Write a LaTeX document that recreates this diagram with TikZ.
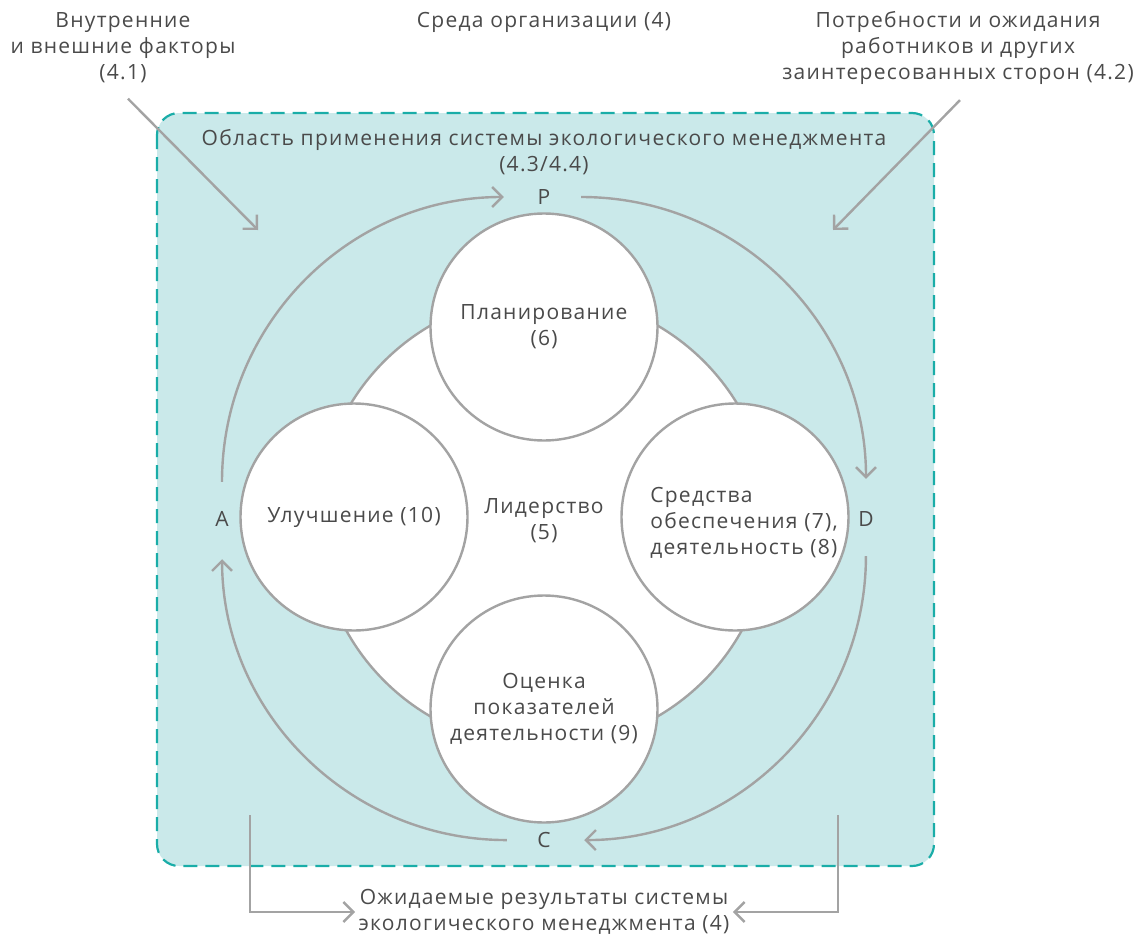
\documentclass[tikz,border=0pt]{standalone}
\usepackage{fontspec}
\setmainfont{Open Sans}[LetterSpace=6]
\usetikzlibrary{arrows.meta, positioning}
\definecolor{scopeteal}{HTML}{CAE9EA}
\definecolor{dashteal}{HTML}{1AADA8}
\definecolor{linegray}{HTML}{A3A3A3}
\definecolor{textgray}{HTML}{4A4A4A}

\begin{document}
\begin{tikzpicture}[
    x=1pt, y=1pt,
    every node/.style={text=textgray, font=\fontsize{21}{26}\selectfont},
    clause/.style={align=center},
    part/.style={circle, draw=linegray, line width=2.4pt, fill=white, minimum size=227pt, align=center},
    phase/.style={circle, minimum size=74pt, inner sep=0pt},
    flow/.style={draw=linegray, line width=2.4pt, -{Straight Barb[length=10pt,width=20pt]}},
    pdca/.style={flow, shorten >=3pt, bend left=45}
]
\useasboundingbox (0,0) rectangle (1146,-937);

% scope of the system
\draw[fill=scopeteal, draw=dashteal, line width=2.2pt, dash pattern=on 14pt off 8pt, rounded corners=22pt] (157,-113) rectangle (934,-866);

% flower
\node[part, minimum size=452pt] (lead) at (544,-521) {Лидерство\\(5)};
\node[part] (plan) at (544,-327) {Планирование\\(6)};
\node[part] (improve) at (354,-517) {Улучшение (10)};
\node[part] (support) at (735,-517) {};
\node[align=left] (supportText) at ([xshift=9pt,yshift=-6pt]support) {Средства\\обеспечения (7),\\деятельность (8)};
\node[part] (check) at (544,-709) {Оценка\\показателей\\деятельности (9)};

% PDCA
\node[phase] (P) at (544,-197) {P};
\node[phase] (D) at (866,-519) {D};
\node[phase] (C) at (544,-840) {C};
\node[phase] (A) at (222,-519) {A};
\draw[pdca] (P) to (D);
\draw[pdca] (D) to (C);
\draw[pdca] (C) to (A);
\draw[pdca] (A) to (P);

% context
\node[clause] (ext) at (123,-48) {Внутренние\\и внешние факторы\\(4.1)};
\node[clause] (env) at (544,-22) {Среда организации (4)};
\node[clause] (needs) at (958,-48) {Потребности и ожидания\\работников и других\\заинтересованных сторон (4.2)};
\node[clause] (scope) at (544,-152) {Область применения системы экологического менеджмента\\(4.3/4.4)};
\node[clause] (result) at (544,-912) {Ожидаемые результаты системы\\экологического менеджмента (4)};

\coordinate (extIn) at (258,-230);
\coordinate (needsIn) at (833,-230);
\coordinate (outL) at (250,-815);
\coordinate (outR) at (838,-815);
\draw[flow] ([xshift=5pt,yshift=-12pt]ext.south) -- (extIn);
\draw[flow] ([xshift=2pt,yshift=-12pt]needs.south) -- (needsIn);
\draw[flow] (outL) |- (result);
\draw[flow] (outR) |- (result);

\end{tikzpicture}
\end{document}
